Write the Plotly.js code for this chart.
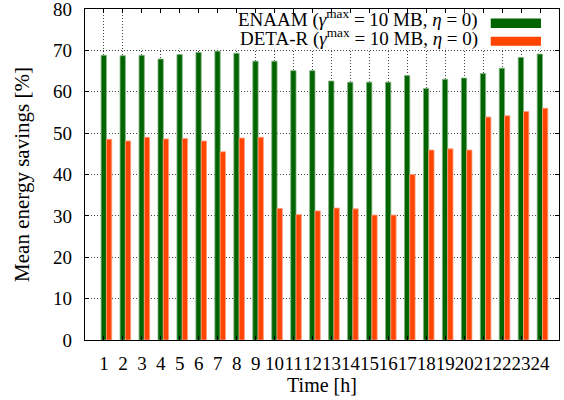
<!DOCTYPE html>
<html>
<head>
<meta charset="utf-8">
<script src="https://cdn.plot.ly/plotly-3.0.1.min.js"></script>
<style>
  html, body { margin: 0; padding: 0; background: #fff; }
  #chart { width: 564px; height: 400px; }
</style>
</head>
<body>
<div id="chart"></div>
<script>
// Hour of day
const hours = [1, 2, 3, 4, 5, 6, 7, 8, 9, 10, 11, 12, 13, 14, 15, 16, 17, 18, 19, 20, 21, 22, 23, 24];
// Mean energy savings [%] per hour
const enaam = [68.8, 68.7, 68.8, 67.9, 69.0, 69.5, 69.8, 69.3, 67.4, 67.4, 65.1, 65.1,
               62.6, 62.3, 62.3, 62.3, 63.9, 60.8, 63.0, 63.3, 64.4, 65.7, 68.3, 69.1];
const detar = [48.5, 48.1, 49.0, 48.6, 48.7, 48.1, 45.5, 48.8, 49.0, 31.8, 30.3, 31.2,
               31.9, 31.7, 30.2, 30.2, 40.0, 45.9, 46.2, 45.9, 53.9, 54.2, 55.2, 56.0];
const yTicks = [0, 10, 20, 30, 40, 50, 60, 70, 80];
const seriesNames = [
  'ENAAM (<i>γ</i><sup>max</sup> = 10 MB, <i>η</i> = 0)',
  'DETA-R (<i>γ</i><sup>max</sup> = 10 MB, <i>η</i> = 0)'
];

const GREEN = '#006400';
const ORANGE = '#ff4500';
const FONT = 'Liberation Serif, Times New Roman, serif';

const traces = [
  {
    type: 'bar', x: hours, y: enaam, name: seriesNames[0],
    width: 0.28, offset: -0.15,
    marker: { color: GREEN, line: { color: '#7fb27f', width: 0.8 } },
    showlegend: false, hoverinfo: 'x+y'
  },
  {
    type: 'bar', x: hours, y: detar, name: seriesNames[1],
    width: 0.28, offset: 0.13,
    marker: { color: ORANGE, line: { color: '#ffa080', width: 0.8 } },
    showlegend: false, hoverinfo: 'x+y'
  }
];

// Key box: white panel with text on the left and long swatches on the right
const keyRows = [
  { text: seriesNames[0], color: GREEN, yText: 77.6, y0: 75.4, y1: 77.7 },
  { text: seriesNames[1], color: ORANGE, yText: 73.0, y0: 71.1, y1: 73.3 }
];

const shapes = [
  { type: 'rect', xref: 'x', yref: 'y', x0: 2.4, x1: 25, y0: 70.4, y1: 79.1,
    fillcolor: '#ffffff', line: { width: 0 }, layer: 'between' }
];
const annotations = [];
keyRows.forEach(r => {
  shapes.push({ type: 'rect', xref: 'x', yref: 'y', x0: 21.4, x1: 24.05, y0: r.y0, y1: r.y1,
                fillcolor: r.color, line: { width: 0 }, layer: 'above' });
  annotations.push({ xref: 'x', yref: 'y', x: 20.85, y: r.yText, xanchor: 'right', yanchor: 'middle',
                     text: r.text, showarrow: false, font: { family: FONT, size: 19, color: '#000' } });
});

const axisCommon = {
  showline: true, linecolor: '#000', linewidth: 1.2, mirror: 'ticks',
  ticks: 'inside', ticklen: 4, tickcolor: '#000', tickwidth: 1,
  showgrid: true, gridcolor: '#444', gridwidth: 1, griddash: '1px,2px',
  zeroline: false, ticklabeloverflow: 'allow',
  tickfont: { family: FONT, size: 19, color: '#000' }
};

const layout = {
  width: 564, height: 400,
  margin: { l: 85, r: 5, t: 9, b: 60 },
  paper_bgcolor: '#fff', plot_bgcolor: '#fff',
  barmode: 'overlay',
  xaxis: Object.assign({}, axisCommon, {
    range: [0, 25], tickmode: 'array', tickvals: hours, ticktext: hours.map(String),
    tickangle: 0, ticklabelstandoff: 6,
    title: { text: 'Time [h]', font: { family: FONT, size: 20, color: '#000' }, standoff: 4 }
  }),
  yaxis: Object.assign({}, axisCommon, {
    range: [0, 80], tickmode: 'array', tickvals: yTicks, ticktext: yTicks.map(String),
    ticklabelstandoff: 8,
    title: { text: 'Mean energy savings [%]', font: { family: FONT, size: 21, color: '#000' }, standoff: 17 }
  }),
  shapes: shapes,
  annotations: annotations,
  showlegend: false
};

Plotly.newPlot('chart', traces, layout, { staticPlot: true });
</script>
</body>
</html>
